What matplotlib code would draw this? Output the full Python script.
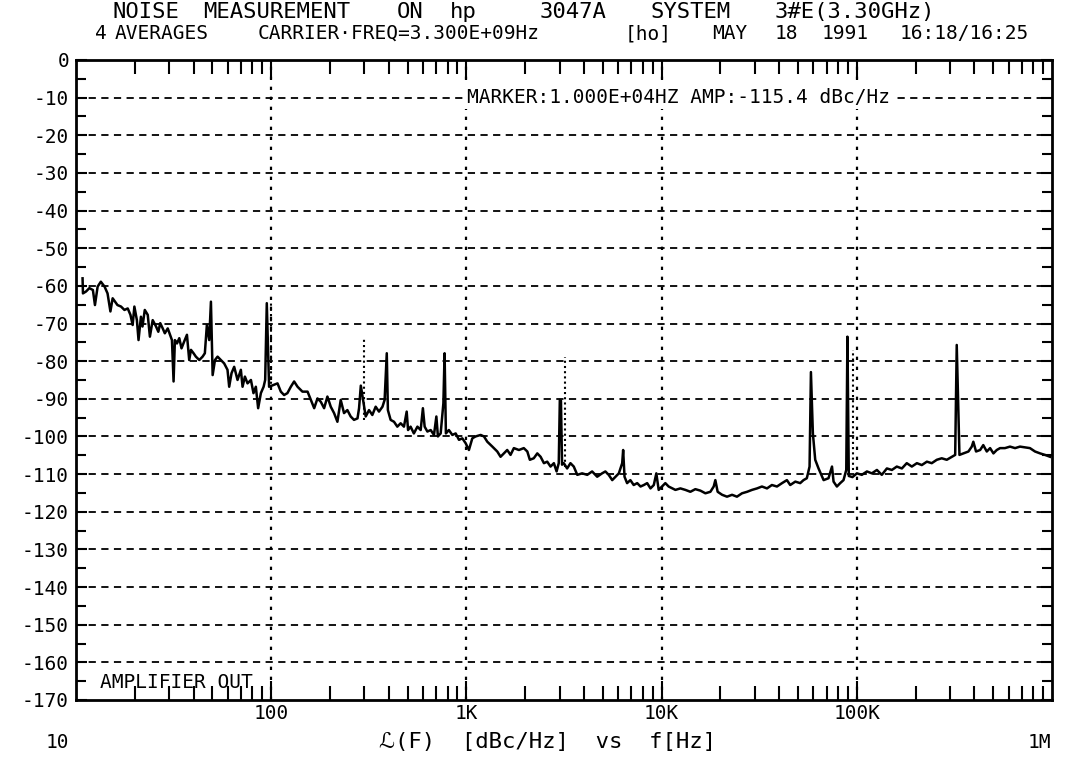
import matplotlib.pyplot as plt
from matplotlib.ticker import FixedLocator, LogLocator, MultipleLocator, NullFormatter

plt.rcParams['font.family'] = ['DejaVu Sans Mono', 'DejaVu Sans']
plt.rcParams['axes.unicode_minus'] = False

# Phase noise trace: offset frequency [Hz] and L(f) [dBc/Hz]
freq = [
    10.8, 10.85, 11.25, 11.7, 12.2, 12.5, 12.9, 13.4, 14.0, 14.5, 15.0, 15.4, 16.3, 17.0,
    17.7, 18.4, 19.0, 19.5, 19.9, 20.5, 20.9, 21.5, 21.9, 22.5, 23.3, 23.9, 24.7, 25.7,
    26.4, 27.0, 27.8, 28.5, 29.5, 30.3, 31.0, 31.6, 32.1, 32.9, 33.8, 34.7, 35.8, 37.0,
    38.0, 38.8, 40.0, 41.1, 42.8, 44.5, 45.7, 46.8, 48.1, 49.1, 50.1, 51.5, 53.1, 55.2,
    57.4, 59.7, 60.9, 62.6, 64.6, 67.2, 69.9, 71.3, 73.3, 75.6, 78.7, 81.1, 83.4, 85.7,
    88.5, 91.4, 93.1, 94.9, 97.5,
    107.7, 112, 116.4, 121, 126, 131, 136.4, 144.5, 153.5, 159.6, 166, 172.6, 179.5,
    186.6, 194, 201.8, 209.9, 218.3, 227, 236, 245.5, 255.3, 265.5, 276.7, 281.8, 287.7,
    304.8, 317, 329.6, 342.8, 356.5, 371.5, 381, 390.8, 396, 409, 425.6, 442.6, 460.3,
    478.6, 494.3, 502.3, 517.6, 538, 561, 583, 598.4, 611, 631, 656, 682, 701.5, 714.5,
    738, 762, 773, 785, 813, 847, 881, 916, 953, 991, 1030, 1072, 1114, 1183,
    1230, 1279, 1358, 1439, 1496, 1556, 1618, 1683, 1750, 1858, 1968, 2051, 2113, 2213,
    2307, 2399, 2495, 2594, 2698, 2806, 2897, 2972, 3010, 3050, 3090, 3155, 3281, 3412,
    3548, 3698, 3917, 4159, 4406, 4677, 4955, 5152, 5358, 5585, 5808, 6039, 6281, 6353,
    6457, 6655, 6918, 7194, 7499, 7798, 8110, 8433, 8770, 9120, 9397, 9661, 10046, 10447,
    10864, 11770, 12480, 13240, 14040, 14890, 15810, 16760, 17780, 18490, 18850, 19370,
    20420, 21630, 22960, 24320, 25820, 27420, 29040, 30830, 32660, 34670, 36730, 38990,
    41400, 43850, 45600, 48420, 51290, 53330, 55460, 57280, 58210, 59570, 61240, 63680,
    67610, 71610, 74640, 76030, 79070, 82220, 85500, 88310, 89540, 91000, 95000,
    100100, 106100, 112700, 119400, 126800, 134300, 142600, 151300, 160300, 170200,
    180300, 191400, 203200, 215300, 228600, 242100, 257000, 272300, 289100, 306900,
    319200, 325100, 335700, 351600, 373200, 388200, 395400, 408300, 428500, 444600,
    463400, 481900, 501200, 521200, 542000, 574100, 609500, 647100, 685500, 727800,
    771000, 818500, 868900, 920500, 977200,
]
level = [
    -58.0, -62.0, -61.5, -60.6, -61.1, -65.1, -60.2, -58.9, -60.2, -62.0, -66.8, -63.3, -65.1, -65.5,
    -66.4, -66.0, -67.7, -70.4, -65.5, -69.1, -74.4, -68.2, -70.8, -66.4, -67.7, -73.5, -69.1, -70.8,
    -72.2, -69.9, -71.3, -72.6, -71.3, -73.0, -74.4, -85.4, -74.4, -75.3, -73.9, -76.6, -74.8, -73.0,
    -79.7, -77.0, -77.9, -78.8, -79.7, -78.8, -77.9, -70.4, -74.4, -64.2, -83.7, -79.7, -78.8, -79.7,
    -80.6, -82.3, -86.8, -83.2, -81.5, -85.0, -82.3, -86.8, -84.1, -85.9, -85.0, -88.5, -86.8, -92.5,
    -88.5, -86.8, -85.0, -64.6, -86.8,
    -85.9, -88.1, -89.0, -88.5, -86.8, -85.4, -86.8, -88.1, -88.1, -90.3, -92.5, -89.9, -90.8,
    -92.5, -89.4, -92.1, -93.8, -96.1, -90.3, -93.8, -93.0, -94.7, -95.6, -95.2, -92.5, -86.5,
    -94.7, -93.0, -94.3, -92.1, -93.4, -92.1, -90.3, -77.9, -93.0, -95.6, -96.1, -97.4, -96.5,
    -97.4, -93.4, -98.3, -97.4, -99.2, -97.4, -98.3, -92.5, -97.4, -98.7, -98.3, -99.6, -94.7, -100.0,
    -99.2, -91.2, -77.9, -99.2, -98.3, -99.6, -99.2, -100.9, -100.5, -101.8, -103.6, -100.5, -100.0, -99.6,
    -100.0, -101.4, -102.7, -104.0, -105.4, -104.5, -103.6, -104.9, -103.1, -103.6, -103.1, -104.0, -106.2, -105.8,
    -104.5, -105.4, -107.1, -106.7, -108.0, -107.1, -109.3, -107.1, -90.3, -90.5, -107.5, -107.1, -108.5, -107.1,
    -108.0, -110.2, -109.8, -110.2, -109.3, -110.7, -109.8, -109.3, -110.2, -111.6, -110.7, -109.8, -107.1, -103.6,
    -110.7, -112.4, -111.6, -112.9, -112.4, -113.3, -112.9, -112.4, -113.8, -112.9, -109.8, -114.2, -113.3, -112.4,
    -113.3, -114.2, -113.8, -114.2, -114.7, -114.0, -114.4, -115.1, -114.7, -113.3, -111.6, -114.7,
    -115.5, -116.0, -115.5, -116.0, -115.1, -114.7, -114.2, -113.8, -113.3, -113.8, -112.9, -113.3,
    -112.4, -111.6, -112.9, -112.0, -112.4, -111.6, -111.1, -108.0, -82.9, -99.2, -106.2, -108.5,
    -111.6, -111.1, -108.0, -112.0, -113.3, -112.4, -111.6, -108.9, -73.5, -110.5, -110.8,
    -109.8, -110.2, -109.3, -109.8, -108.9, -110.2, -108.5, -108.9, -108.0, -108.5,
    -107.1, -108.0, -107.1, -107.6, -106.7, -107.1, -106.2, -105.8, -106.2, -105.4,
    -104.9, -75.7, -104.9, -104.5, -104.0, -102.7, -101.4, -104.0, -103.6, -102.3,
    -104.0, -103.1, -104.5, -103.6, -103.1, -103.1, -102.7, -103.1, -102.7, -102.9,
    -103.1, -104.0, -104.5, -104.9, -105.4,
]

# spurs drawn as dotted vertical bars
spur_freq = [100, 300, 3200, 95900]
spur_top = [-64.0, -73.9, -78.8, -77.0]
spur_bottom = [-87.5, -95.6, -108.0, -109.0]

y_ticks = list(range(-170, 1, 10))
x_ticks = [100, 1e3, 1e4, 1e5]
x_tick_labels = ['100', '1K', '10K', '100K']

# header words and their left edges (figure pixels)
title_words = ['NOISE', 'MEASUREMENT', 'ON', 'hp', '3047A', 'SYSTEM', '3#E(3.30GHz)']
title_x = [113, 203, 397, 450, 540, 650, 775]
info_words = ['4', 'AVERAGES', 'CARRIER\u00b7FREQ=3.300E+09Hz', '[ho]', 'MAY', '18', '1991',
              '16:18/16:25']
info_x = [95, 115, 258, 625, 712, 775, 822, 900]

W, H = 1074, 763
fig = plt.figure(figsize=(10.74, 7.63), dpi=100)
ax = fig.add_axes([0.0708, 0.0826, 0.9087, 0.8388])
ax.set_xscale('log')
ax.set_xlim(10, 1e6)
ax.set_ylim(-170, 0)

# grid
for y in range(-160, 0, 10):
    ax.axhline(y, color='black', lw=1.3, ls=(0, (4, 3)), zorder=1)
for x in x_ticks:
    ax.axvline(x, color='black', lw=1.6, ls=(0, (1.5, 3)), zorder=1)

ax.plot(freq, level, color='black', lw=1.8, zorder=3)
ax.vlines(spur_freq, spur_bottom, spur_top, colors='black', linestyles=(0, (1, 1.5)), lw=1.5, zorder=3)

# ticks
ax.set_yticks(y_ticks)
ax.set_yticklabels([str(v) for v in y_ticks])
ax.yaxis.set_minor_locator(MultipleLocator(5))
ax.xaxis.set_major_locator(FixedLocator(x_ticks))
ax.set_xticklabels(x_tick_labels)
ax.xaxis.set_minor_locator(LogLocator(base=10, subs=range(2, 10), numticks=20))
ax.xaxis.set_minor_formatter(NullFormatter())
ax.tick_params(which='both', direction='in', top=True, right=True, width=1.5)
ax.tick_params(axis='x', which='major', length=14, pad=3, labelsize=14)
ax.tick_params(axis='x', which='minor', length=10)
ax.tick_params(axis='y', which='major', length=8, pad=5, labelsize=14)
ax.tick_params(axis='y', which='minor', length=7)
for s in ax.spines.values():
    s.set_linewidth(2)

# header
for word, px in zip(title_words, title_x):
    fig.text(px / W, 1 - 18 / H, word, ha='left', va='baseline', fontsize=16)
for word, px in zip(info_words, info_x):
    fig.text(px / W, 1 - 39 / H, word, ha='left', va='baseline', fontsize=14)

ax.text(0.4006, 0.942, 'MARKER:1.000E+04HZ AMP:-115.4 dBc/Hz', transform=ax.transAxes,
        ha='left', va='center', fontsize=14,
        bbox=dict(facecolor='white', edgecolor='none', pad=2), zorder=4)
ax.text(0.0246, 0.028, 'AMPLIFIER OUT', transform=ax.transAxes,
        ha='left', va='center', fontsize=14, zorder=4)

fig.text(0.053, 0.0275, '10', ha='center', va='center', fontsize=14)
fig.text(0.968, 0.0275, '1M', ha='center', va='center', fontsize=14)
fig.text(0.510, 0.0275, '\u2112(F)  [dBc/Hz]  vs  f[Hz]', ha='center', va='center', fontsize=16)

fig.savefig('out.png', dpi=100)
